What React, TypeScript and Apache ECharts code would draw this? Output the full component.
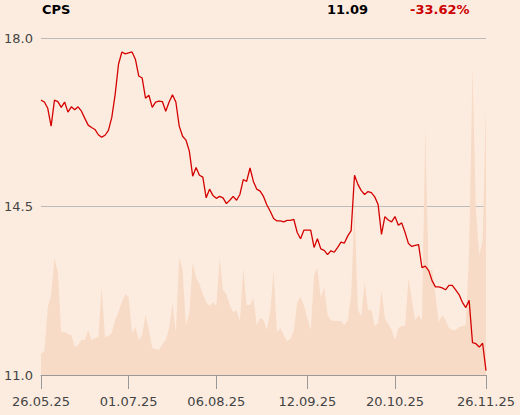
import React, { useEffect, useRef } from "react";
import * as echarts from "echarts";

const title = "CPS";
const lastPrice = "11.09";
const changePct = "-33.62%";

const tickLabels = ["26.05.25", "01.07.25", "06.08.25", "12.09.25", "20.10.25", "26.11.25"];

const prices = [
  16.71, 16.67, 16.54, 16.17, 16.71, 16.68, 16.56, 16.67, 16.46, 16.57,
  16.51, 16.57, 16.48, 16.33, 16.19, 16.14, 16.10, 15.99, 15.94, 15.98,
  16.08, 16.35, 16.83, 17.46, 17.71, 17.67, 17.69, 17.71, 17.56, 17.21,
  17.17, 16.75, 16.81, 16.56, 16.67, 16.69, 16.68, 16.48, 16.67, 16.82,
  16.67, 16.17, 15.96, 15.88, 15.65, 15.13, 15.31, 15.15, 15.11, 14.68,
  14.86, 14.73, 14.67, 14.71, 14.68, 14.56, 14.63, 14.71, 14.63, 14.75,
  15.06, 15.02, 15.30, 15.02, 14.86, 14.82, 14.71, 14.53, 14.40, 14.25,
  14.20, 14.20, 14.18, 14.21, 14.21, 14.23, 13.96, 13.83, 14.01, 14.01,
  14.01, 13.65, 13.83, 13.62, 13.59, 13.50, 13.58, 13.55, 13.65, 13.76,
  13.74, 13.89, 14.00, 15.15, 14.96, 14.83, 14.75, 14.81, 14.79, 14.70,
  14.54, 13.92, 14.29, 14.22, 14.18, 14.29, 14.11, 14.16, 13.96, 13.73,
  13.67, 13.69, 13.71, 13.23, 13.26, 13.17, 12.96, 12.83, 12.83, 12.81,
  12.77, 12.86, 12.86, 12.77, 12.67, 12.51, 12.40, 12.55, 11.67, 11.65,
  11.58, 11.66, 11.09,
];

const volumes = [
  21, 24, 68, 80, 117, 103, 43, 43, 41, 40,
  28, 30, 35, 35, 45, 35, 37, 38, 88, 38,
  39, 42, 55, 63, 73, 81, 78, 42, 48, 35,
  40, 60, 45, 27, 26, 25, 31, 35, 47, 72,
  43, 118, 105, 50, 62, 113, 97, 91, 81, 73,
  69, 73, 69, 117, 85, 81, 70, 63, 65, 54,
  107, 70, 70, 77, 50, 57, 55, 45, 63, 105,
  43, 47, 40, 34, 36, 45, 73, 78, 70, 57,
  45, 100, 107, 77, 88, 60, 55, 54, 54, 54,
  50, 55, 80, 168, 65, 59, 93, 65, 65, 49,
  52, 85, 57, 51, 45, 35, 47, 49, 49, 97,
  75, 55, 60, 55, 247, 97, 107, 80, 53, 60,
  55, 47, 45, 45, 48, 49, 50, 125, 310, 165,
  120, 135, 272,
];

function buildDates(): string[] {
  const out: string[] = [];
  const d = new Date(Date.UTC(2025, 4, 26));
  const end = Date.UTC(2025, 10, 26);
  while (d.getTime() <= end) {
    const wd = d.getUTCDay();
    if (wd !== 0 && wd !== 6) {
      const dd = String(d.getUTCDate()).padStart(2, "0");
      const mm = String(d.getUTCMonth() + 1).padStart(2, "0");
      const yy = String(d.getUTCFullYear()).slice(2);
      out.push(`${dd}.${mm}.${yy}`);
    }
    d.setUTCDate(d.getUTCDate() + 1);
  }
  return out;
}

const dates = buildDates();

export default function App() {
  const ref = useRef<HTMLDivElement>(null);
  useEffect(() => {
    if (!ref.current) return;
    const chart = echarts.init(ref.current, null, { renderer: "svg" });
    const font = "DejaVu Sans";
    const showIdx = (i: number) => tickLabels.includes(dates[i]);
    chart.setOption({
      animation: false,
      backgroundColor: "#fcece0",
      textStyle: { fontFamily: font },
      grid: { left: 41, right: 34, top: 38, bottom: 40 },
      graphic: [
        { type: "text", left: 42, top: 3, style: { text: title, font: `bold 13px "${font}"`, fill: "#000" } },
        { type: "text", left: 327, top: 3, style: { text: lastPrice, font: `bold 13px "${font}"`, fill: "#000" } },
        { type: "text", left: 410, top: 3, style: { text: changePct, font: `bold 13px "${font}"`, fill: "#cc0000" } },
      ],
      xAxis: {
        type: "category",
        data: dates,
        boundaryGap: false,
        axisLine: { show: true, lineStyle: { color: "#999", width: 1 } },
        axisTick: { show: true, length: 14, interval: (i: number) => showIdx(i), lineStyle: { color: "#999" } },
        axisLabel: { interval: (i: number) => showIdx(i), margin: 20, color: "#444", fontSize: 13, fontFamily: font, showMinLabel: true, showMaxLabel: true },
        splitLine: { show: false },
      },
      yAxis: [
        {
          type: "value",
          min: 11,
          max: 18,
          interval: 3.5,
          axisLine: { show: false },
          axisTick: { show: false },
          axisLabel: { margin: 8, color: "#444", fontSize: 13, fontFamily: font, formatter: (v: number) => v.toFixed(1) },
          splitLine: { show: true, lineStyle: { color: "#bbb", width: 1 } },
        },
        { type: "value", min: 0, max: 337, show: false, splitLine: { show: false } },
      ],
      series: [
        {
          type: "line",
          yAxisIndex: 1,
          data: volumes,
          symbol: "none",
          lineStyle: { width: 0 },
          areaStyle: { color: "#f8dbc6", opacity: 1 },
          z: 1,
        },
        {
          type: "line",
          yAxisIndex: 0,
          data: prices,
          symbol: "none",
          lineStyle: { color: "#d40000", width: 1.3 },
          z: 3,
        },
      ],
    });
    return () => chart.dispose();
  }, []);
  return <div ref={ref} style={{ width: 520, height: 415, position: "absolute", left: 0, top: 0 }} />;
}
